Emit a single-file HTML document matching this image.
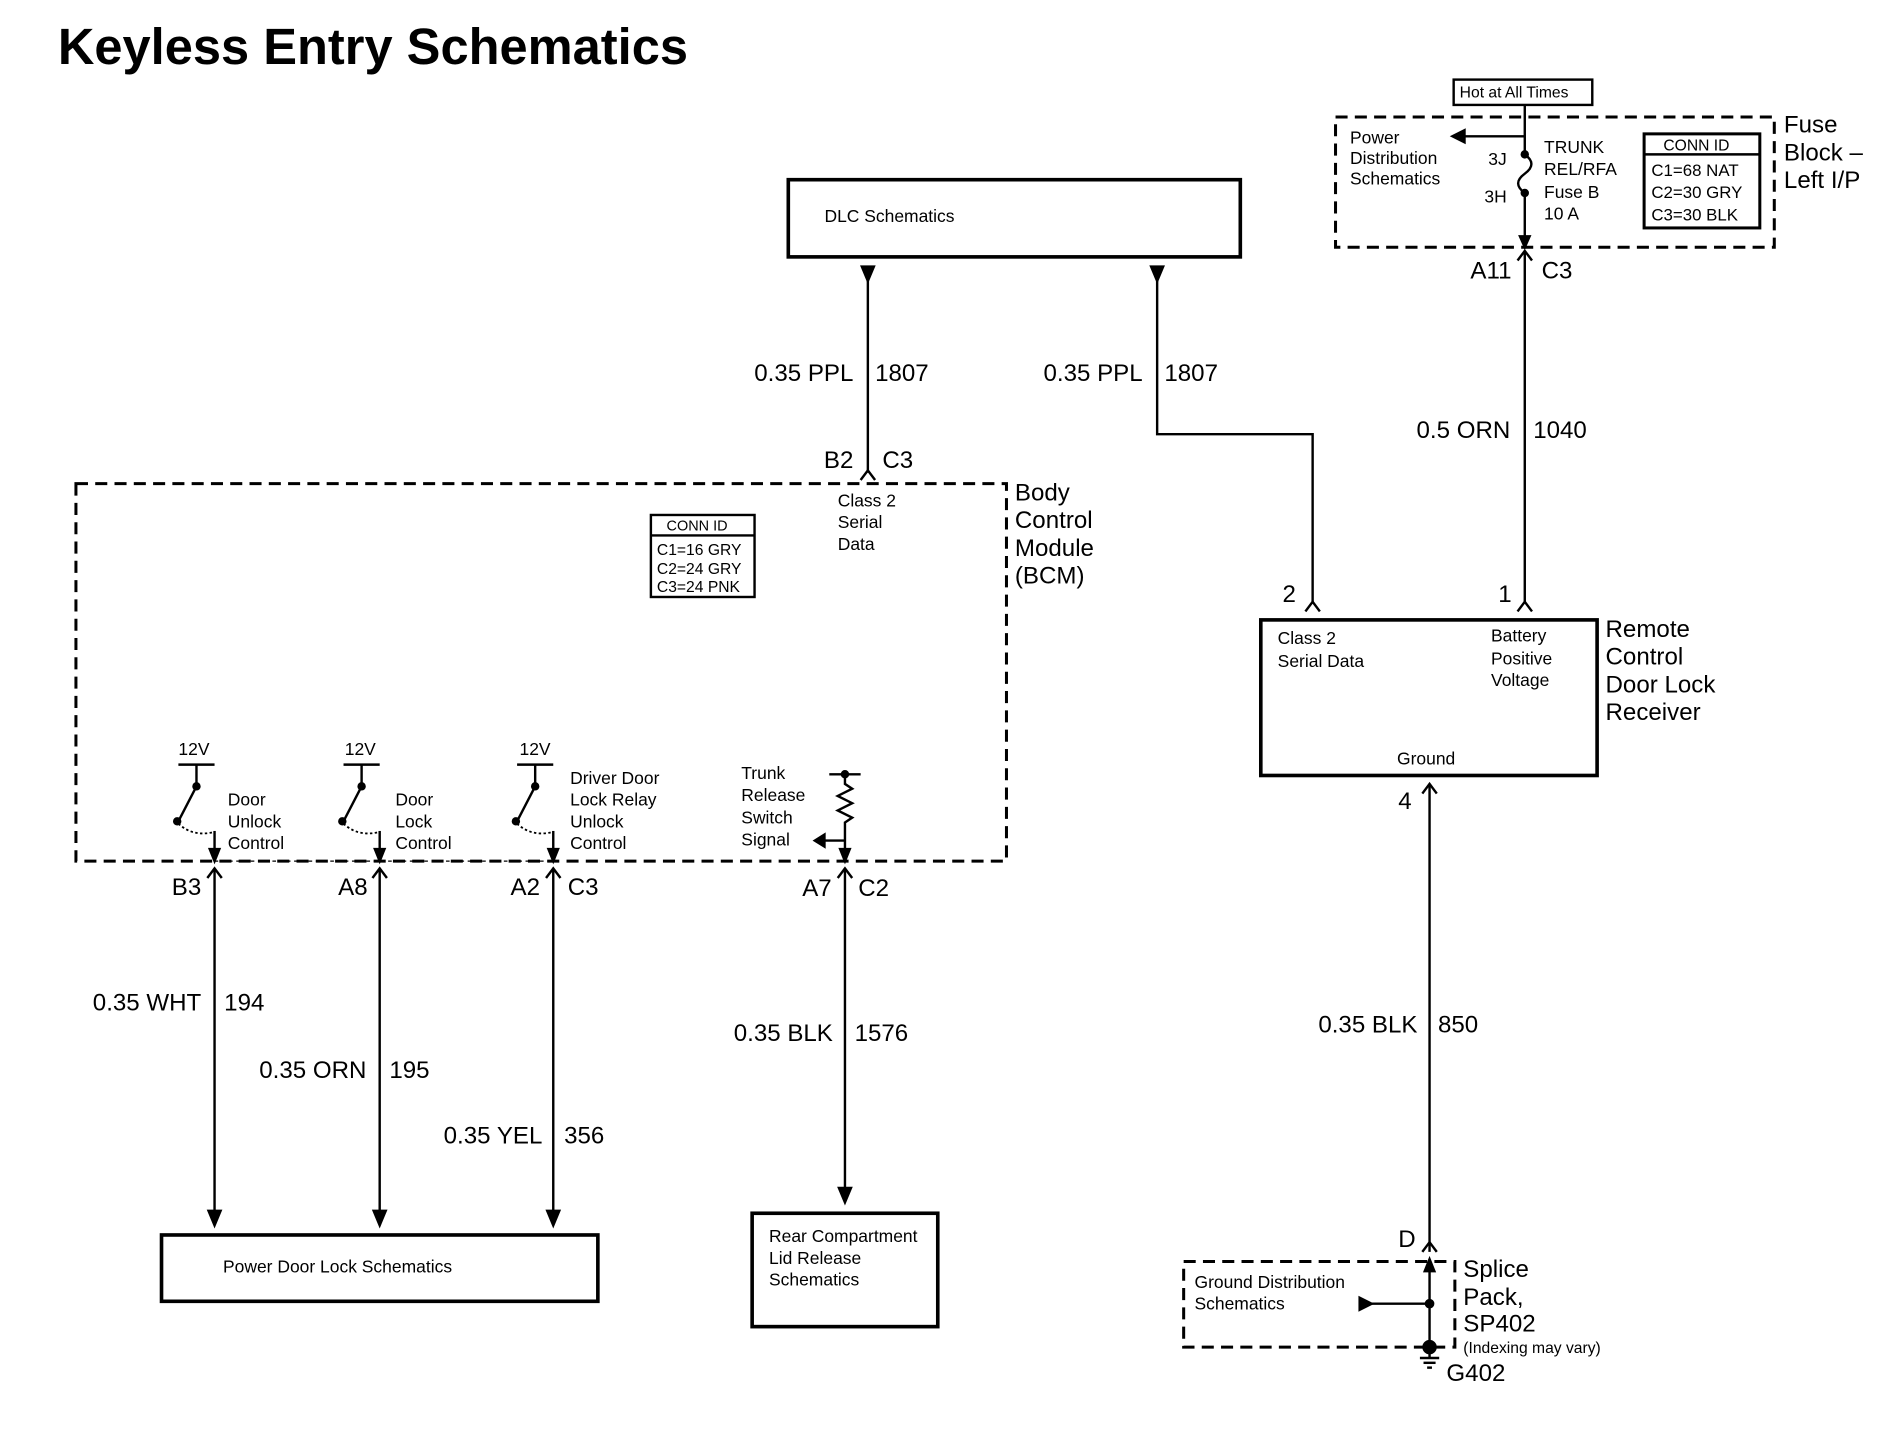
<!DOCTYPE html>
<html><head><meta charset="utf-8"><style>
html,body{margin:0;padding:0;background:#fff;}
svg{display:block;}
text{font-family:"Liberation Sans",sans-serif;fill:#000;}
.s{font-size:14.5px;}
.m{font-size:20px;}
.l{font-size:20px;}
.r{text-anchor:end;}
</style></head><body>
<svg width="1890" height="1440" viewBox="0 0 1568 1194" preserveAspectRatio="none" xmlns="http://www.w3.org/2000/svg">
<g stroke="#000" fill="none" stroke-width="2">
<text x="48" y="53" style="font-size:42px;font-weight:bold" stroke="none">Keyless Entry Schematics</text>

<rect x="654" y="149" width="375" height="64" stroke-width="3"/>
<path d="M715,221 L725,221 L720,233 z" fill="#000"/>
<line x1="720" y1="233" x2="720" y2="392"/>
<path d="M714,398 L720,390 L726,398"/>
<path d="M955,221 L965,221 L960,233 z" fill="#000"/>
<polyline points="960,233 960,360 1089,360 1089,500"/>
<path d="M1083,507 L1089,499 L1095,507"/>

<rect x="63" y="401" width="772" height="313" stroke-dasharray="10,6" stroke-width="2.5"/>
<rect x="540" y="427" width="86" height="68"/>
<line x1="540" y1="444" x2="626" y2="444"/>

<g id="sw">
<line x1="148" y1="634" x2="178" y2="634"/>
<line x1="163" y1="634" x2="163" y2="650"/>
<line x1="163" y1="652" x2="149" y2="679"/>
<circle cx="163" cy="652" r="2.5" fill="#000"/>
<circle cx="147" cy="681" r="2.5" fill="#000"/>
<path d="M148,683 Q160,694 177,690" stroke-dasharray="2,2" stroke-width="1.5"/>
<line x1="178" y1="689" x2="178" y2="706"/>
<path d="M174,704 L182,704 L178,714 z" fill="#000"/>
<path d="M172,728 L178,720 L184,728"/>
<line x1="178" y1="720" x2="178" y2="1005"/>
<path d="M173,1004 L183,1004 L178,1016 z" fill="#000"/>
</g>
<use href="#sw" x="137"/>
<use href="#sw" x="281"/>
<line x1="178" y1="714" x2="459" y2="714" stroke-dasharray="3,3" stroke-width="1"/>

<line x1="688" y1="642" x2="714" y2="642"/>
<circle cx="701" cy="642" r="2.5" fill="#000"/>
<polyline points="701,642 701,650 707,654 695,660 707,666 695,672 707,678 701,682 701,714"/>
<line x1="701" y1="697" x2="684" y2="697"/>
<path d="M684,692 L684,702 L676,697 z" fill="#000"/>
<path d="M697,704 L705,704 L701,714 z" fill="#000"/>
<path d="M695,728 L701,720 L707,728"/>
<line x1="701" y1="720" x2="701" y2="986"/>
<path d="M696,985 L706,985 L701,997 z" fill="#000"/>

<rect x="134" y="1024" width="362" height="55" stroke-width="3"/>
<rect x="624" y="1006" width="154" height="94" stroke-width="3"/>

<rect x="1206" y="66" width="115" height="21"/>
<rect x="1108" y="97" width="364" height="108" stroke-dasharray="10,6" stroke-width="2.5"/>
<line x1="1265" y1="87" x2="1265" y2="128"/>
<line x1="1265" y1="113" x2="1215" y2="113"/>
<path d="M1215,108 L1215,118 L1205,113 z" fill="#000"/>
<circle cx="1265" cy="128" r="2.5" fill="#000"/>
<path d="M1265,128 Q1276,136 1265,144 Q1254,152 1265,160"/>
<circle cx="1265" cy="160" r="2.5" fill="#000"/>
<line x1="1265" y1="160" x2="1265" y2="197"/>
<path d="M1261,196 L1269,196 L1265,205 z" fill="#000"/>
<rect x="1364" y="111" width="96" height="78" stroke-width="2.5"/>
<line x1="1364" y1="128" x2="1460" y2="128"/>
<path d="M1259,216 L1265,208 L1271,216"/>
<line x1="1265" y1="208" x2="1265" y2="500"/>
<path d="M1259,507 L1265,499 L1271,507"/>

<rect x="1046" y="514" width="279" height="129" stroke-width="3"/>
<path d="M1180,658 L1186,650 L1192,658"/>
<line x1="1186" y1="650" x2="1186" y2="1038"/>
<path d="M1180,1038 L1186,1030 L1192,1038"/>
<rect x="982" y="1046" width="225" height="71" stroke-dasharray="10,6" stroke-width="2.5"/>
<path d="M1182,1054 L1190,1054 L1186,1044 z" fill="#000"/>
<line x1="1186" y1="1054" x2="1186" y2="1117"/>
<line x1="1186" y1="1081" x2="1138" y2="1081"/>
<path d="M1128,1076 L1128,1086 L1138,1081 z" fill="#000"/>
<circle cx="1186" cy="1081" r="3" fill="#000"/>
<circle cx="1186" cy="1117" r="5" fill="#000"/>
<line x1="1186" y1="1117" x2="1186" y2="1126"/>
<line x1="1178" y1="1126" x2="1194" y2="1126"/>
<line x1="1181" y1="1130" x2="1191" y2="1130"/>
<line x1="1184" y1="1134" x2="1188" y2="1134"/>
</g>

<g>
<text class="s" x="684" y="184">DLC Schematics</text>
<text class="m r" x="708" y="316">0.35 PPL</text><text class="m" x="726" y="316">1807</text>
<text class="m r" x="948" y="316">0.35 PPL</text><text class="m" x="966" y="316">1807</text>
<text class="m r" x="708" y="388">B2</text><text class="m" x="732" y="388">C3</text>
<text class="s" x="695" y="420">Class 2</text><text class="s" x="695" y="438">Serial</text><text class="s" x="695" y="456">Data</text>
<text class="l" x="842" y="415">Body</text><text class="l" x="842" y="438">Control</text><text class="l" x="842" y="461">Module</text><text class="l" x="842" y="484">(BCM)</text>
<text x="553" y="440" style="font-size:12px">CONN ID</text>
<text x="545" y="460" style="font-size:13px">C1=16 GRY</text>
<text x="545" y="476" style="font-size:13px">C2=24 GRY</text>
<text x="545" y="491" style="font-size:13px">C3=24 PNK</text>
<text class="s" x="148" y="626">12V</text><text class="s" x="286" y="626">12V</text><text class="s" x="431" y="626">12V</text>
<text class="s" x="189" y="668">Door</text><text class="s" x="189" y="686">Unlock</text><text class="s" x="189" y="704">Control</text>
<text class="s" x="328" y="668">Door</text><text class="s" x="328" y="686">Lock</text><text class="s" x="328" y="704">Control</text>
<text class="s" x="473" y="650">Driver Door</text><text class="s" x="473" y="668">Lock Relay</text><text class="s" x="473" y="686">Unlock</text><text class="s" x="473" y="704">Control</text>
<text class="s" x="615" y="646">Trunk</text><text class="s" x="615" y="664">Release</text><text class="s" x="615" y="683">Switch</text><text class="s" x="615" y="701">Signal</text>
<text class="m r" x="167" y="742">B3</text>
<text class="m r" x="305" y="742">A8</text>
<text class="m r" x="448" y="742">A2</text><text class="m" x="471" y="742">C3</text>
<text class="m r" x="690" y="743">A7</text><text class="m" x="712" y="743">C2</text>
<text class="m r" x="167" y="838">0.35 WHT</text><text class="m" x="186" y="838">194</text>
<text class="m r" x="304" y="894">0.35 ORN</text><text class="m" x="323" y="894">195</text>
<text class="m r" x="450" y="948">0.35 YEL</text><text class="m" x="468" y="948">356</text>
<text class="m r" x="691" y="863">0.35 BLK</text><text class="m" x="709" y="863">1576</text>
<text class="s" x="185" y="1055">Power Door Lock Schematics</text>
<text class="s" x="638" y="1030">Rear Compartment</text><text class="s" x="638" y="1048">Lid Release</text><text class="s" x="638" y="1066">Schematics</text>

<text x="1211" y="81" style="font-size:13px">Hot at All Times</text>
<text class="s" x="1120" y="119">Power</text><text class="s" x="1120" y="136">Distribution</text><text class="s" x="1120" y="153">Schematics</text>
<text class="s r" x="1250" y="137">3J</text><text class="s r" x="1250" y="168">3H</text>
<text class="s" x="1281" y="127">TRUNK</text><text class="s" x="1281" y="145">REL/RFA</text><text class="s" x="1281" y="164">Fuse B</text><text class="s" x="1281" y="182">10 A</text>
<text x="1380" y="125" style="font-size:13px">CONN ID</text>
<text x="1370" y="146" style="font-size:14px">C1=68 NAT</text>
<text x="1370" y="164" style="font-size:14px">C2=30 GRY</text>
<text x="1370" y="183" style="font-size:14px">C3=30 BLK</text>
<text class="l" x="1480" y="110">Fuse</text><text class="l" x="1480" y="133">Block –</text><text class="l" x="1480" y="156">Left I/P</text>
<text class="m r" x="1254" y="231">A11</text><text class="m" x="1279" y="231">C3</text>
<text class="m r" x="1253" y="363">0.5 ORN</text><text class="m" x="1272" y="363">1040</text>
<text class="m" x="1064" y="499">2</text><text class="m" x="1243" y="499">1</text>
<text class="s" x="1060" y="534">Class 2</text><text class="s" x="1060" y="553">Serial Data</text>
<text class="s" x="1237" y="532">Battery</text><text class="s" x="1237" y="551">Positive</text><text class="s" x="1237" y="569">Voltage</text>
<text class="s" x="1159" y="634">Ground</text>
<text class="l" x="1332" y="528">Remote</text><text class="l" x="1332" y="551">Control</text><text class="l" x="1332" y="574">Door Lock</text><text class="l" x="1332" y="597">Receiver</text>
<text class="m" x="1160" y="671">4</text>
<text class="m r" x="1176" y="856">0.35 BLK</text><text class="m" x="1193" y="856">850</text>
<text class="m" x="1160" y="1034">D</text>
<text class="s" x="991" y="1068">Ground Distribution</text><text class="s" x="991" y="1086">Schematics</text>
<text class="l" x="1214" y="1059">Splice</text><text class="l" x="1214" y="1082">Pack,</text><text class="l" x="1214" y="1104">SP402</text>
<text x="1214" y="1122" style="font-size:13px">(Indexing may vary)</text>
<text class="m" x="1200" y="1145">G402</text>
</g>
</svg>
</body></html>
